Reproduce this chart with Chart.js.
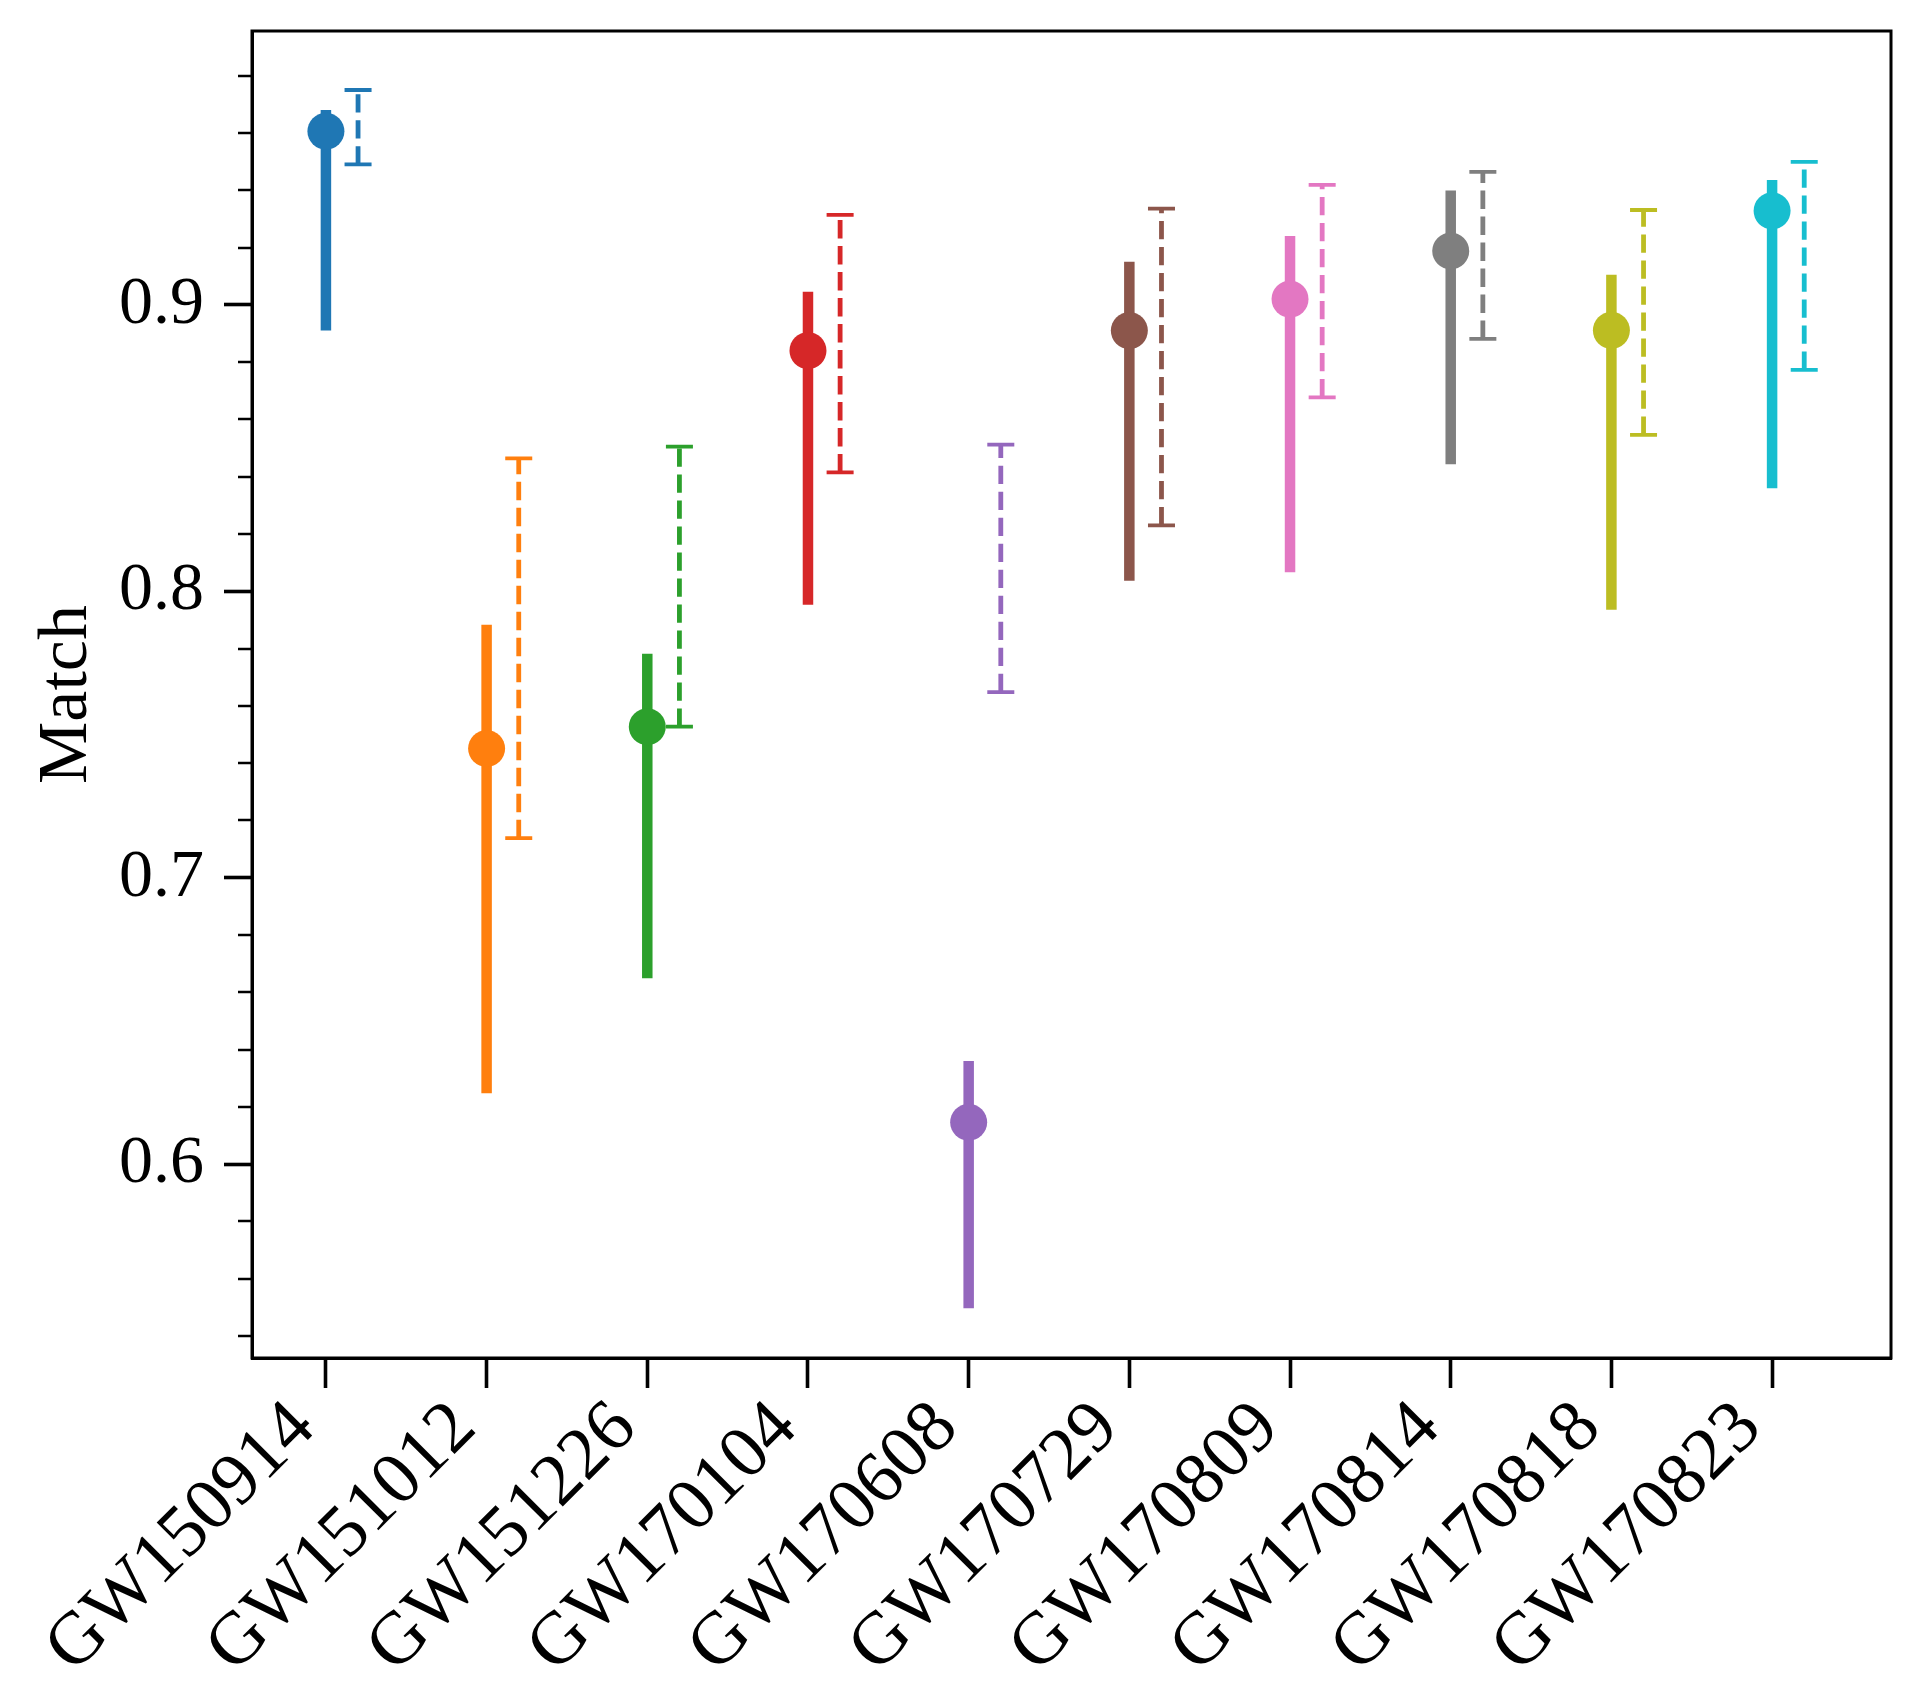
<!DOCTYPE html>
<html>
<head>
<meta charset="utf-8">
<script src="https://cdn.jsdelivr.net/npm/chart.js@4.4.1/dist/chart.umd.min.js"></script>
<style>
  html, body { margin: 0; padding: 0; background: #ffffff; }
  #wrap { width: 1919px; height: 1698px; }
</style>
</head>
<body>
<div id="wrap"><canvas id="c" width="1919" height="1698"></canvas></div>
<script>
// ---- data ----
const events = ['GW150914','GW151012','GW151226','GW170104','GW170608','GW170729','GW170809','GW170814','GW170818','GW170823'];
const medianMatch = [0.9606, 0.7451, 0.7527, 0.8840, 0.6146, 0.8910, 0.9020, 0.9188, 0.8911, 0.9328];
const solidLow    = [0.8910, 0.6247, 0.6649, 0.7953, 0.5497, 0.8037, 0.8066, 0.8443, 0.7935, 0.8360];
const solidHigh   = [0.9680, 0.7883, 0.7782, 0.9046, 0.6360, 0.9150, 0.9240, 0.9399, 0.9105, 0.9436];
const dashedLow   = [0.9490, 0.7138, 0.7527, 0.8415, 0.7648, 0.8230, 0.8677, 0.8881, 0.8546, 0.8773];
const dashedHigh  = [0.9750, 0.8464, 0.8505, 0.9314, 0.8512, 0.9336, 0.9419, 0.9464, 0.9331, 0.9499];
const yMajorTicks = [0.6, 0.7, 0.8, 0.9];
const yMinorTicks = [0.54, 0.56, 0.58, 0.62, 0.64, 0.66, 0.68, 0.72, 0.74, 0.76, 0.78, 0.82, 0.84, 0.86, 0.88, 0.92, 0.94, 0.96, 0.98];
const colors = ['#1f77b4','#ff7f0e','#2ca02c','#d62728','#9467bd','#8c564b','#e377c2','#7f7f7f','#bcbd22','#17becf'];

// ---- style constants ----
const DASH_OFFSET = 0.2;
const FONT = '"Liberation Serif", "DejaVu Serif", serif';

const points = medianMatch.map((v, i) => ({ x: i, y: v }));

const bgPlugin = {
  id: 'bg',
  beforeDraw(chart) {
    const ctx = chart.ctx;
    ctx.save();
    ctx.fillStyle = '#ffffff';
    ctx.fillRect(0, 0, chart.width, chart.height);
    ctx.restore();
  }
};

const errPlugin = {
  id: 'errbars',
  beforeDatasetsDraw(chart) {
    const { ctx, scales } = chart;
    const xs = scales.x, ys = scales.y;
    ctx.save();
    for (let i = 0; i < events.length; i++) {
      const c = colors[i];
      const xp = xs.getPixelForValue(i);
      // solid interval
      ctx.strokeStyle = c;
      ctx.lineCap = 'butt';
      ctx.setLineDash([]);
      ctx.lineWidth = 10.5;
      ctx.beginPath();
      ctx.moveTo(xp, ys.getPixelForValue(solidLow[i]));
      ctx.lineTo(xp, ys.getPixelForValue(solidHigh[i]));
      ctx.stroke();
      // dashed interval
      const xd = xs.getPixelForValue(i + DASH_OFFSET);
      const yl = ys.getPixelForValue(dashedLow[i]);
      const yh = ys.getPixelForValue(dashedHigh[i]);
      ctx.lineWidth = 4.8;
      ctx.setLineDash([18.3, 7.7]);
      ctx.beginPath();
      ctx.moveTo(xd, yl);
      ctx.lineTo(xd, yh);
      ctx.stroke();
      // caps
      ctx.setLineDash([]);
      ctx.lineWidth = 3.8;
      ctx.beginPath();
      ctx.moveTo(xd - 13.5, yl); ctx.lineTo(xd + 13.5, yl);
      ctx.moveTo(xd - 13.5, yh); ctx.lineTo(xd + 13.5, yh);
      ctx.stroke();
    }
    ctx.restore();
  }
};

const framePlugin = {
  id: 'frame',
  afterDraw(chart) {
    const { ctx, chartArea: a, scales } = chart;
    const ys = scales.y;
    ctx.save();
    ctx.strokeStyle = '#000000';
    ctx.lineWidth = 3;
    ctx.setLineDash([]);
    ctx.strokeRect(a.left, a.top, a.right - a.left, a.bottom - a.top);
    // minor y ticks
    ctx.lineWidth = 2.6;
    ctx.beginPath();
    yMinorTicks.forEach(v => {
      const yp = Math.round(ys.getPixelForValue(v));
      ctx.moveTo(a.left, yp);
      ctx.lineTo(a.left - 14, yp);
    });
    ctx.stroke();
    ctx.restore();
  }
};

new Chart(document.getElementById('c'), {
  type: 'scatter',
  data: {
    datasets: [{
      data: points,
      backgroundColor: colors,
      borderWidth: 0,
      pointRadius: 18.5,
      pointHoverRadius: 18.5
    }]
  },
  plugins: [bgPlugin, errPlugin, framePlugin],
  options: {
    responsive: false,
    animation: false,
    devicePixelRatio: 1,
    layout: { padding: { top: 31, right: 28, left: 0, bottom: 0 } },
    plugins: { legend: { display: false }, tooltip: { enabled: false } },
    scales: {
      x: {
        type: 'linear',
        min: -0.46,
        max: 9.74,
        afterBuildTicks(scale) { scale.ticks = events.map((e, i) => ({ value: i })); },
        afterFit(scale) { scale.height = 340; scale.paddingLeft = 0; scale.paddingRight = 0; },
        ticks: {
          callback: (v) => events[v],
          autoSkip: false,
          minRotation: 45,
          maxRotation: 45,
          padding: -3,
          labelOffset: -22,
          color: '#000000',
          font: { family: FONT, size: 74 }
        },
        grid: { drawOnChartArea: false, drawTicks: true, tickLength: 30, tickWidth: 3.6, tickColor: '#000000' },
        border: { display: true, color: '#000000', width: 3 }
      },
      y: {
        type: 'linear',
        min: 0.5323,
        max: 0.9956,
        afterBuildTicks(scale) { scale.ticks = yMajorTicks.map(v => ({ value: v })); },
        afterFit(scale) { scale.width = 252; scale.paddingTop = 0; scale.paddingBottom = 0; },
        ticks: {
          callback: (v) => v.toFixed(1),
          padding: 20,
          color: '#000000',
          font: { family: FONT, size: 68 }
        },
        title: {
          display: true,
          text: 'Match',
          color: '#000000',
          font: { family: FONT, size: 70 },
          padding: { top: 26, bottom: 0 }
        },
        grid: { drawOnChartArea: false, drawTicks: true, tickLength: 28, tickWidth: 3.6, tickColor: '#000000' },
        border: { display: true, color: '#000000', width: 3 }
      }
    }
  }
});
</script>
</body>
</html>
